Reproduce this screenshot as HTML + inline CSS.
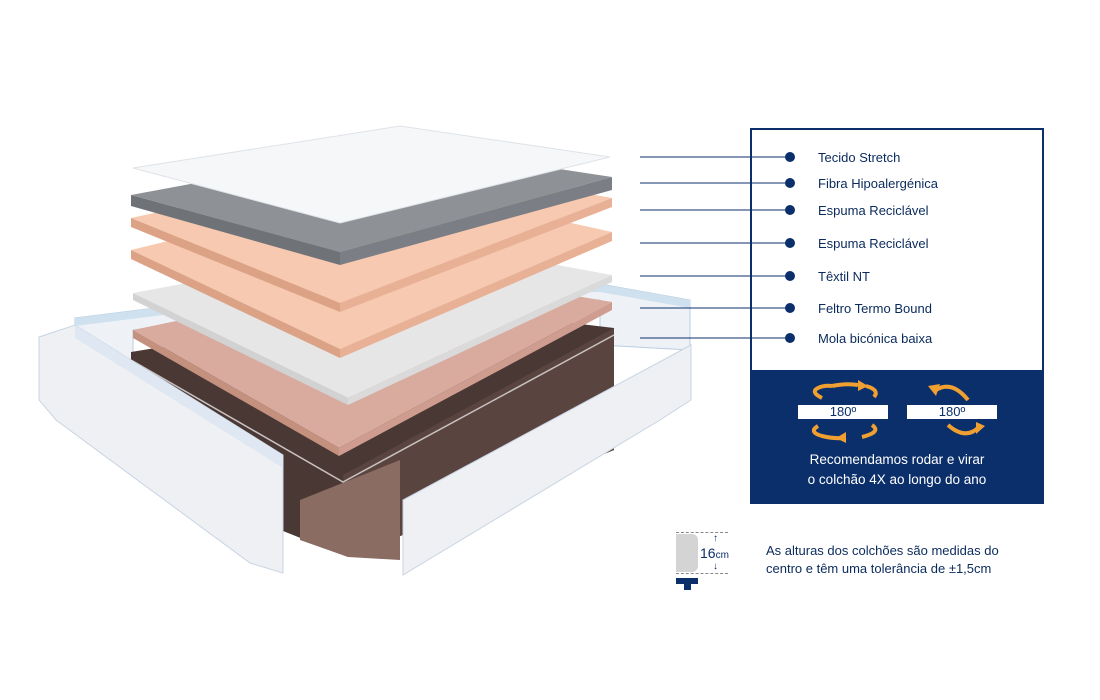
<!DOCTYPE html>
<html><head><meta charset="utf-8"><style>
body{margin:0;width:1100px;height:700px;background:#fff;font-family:"Liberation Sans",sans-serif;position:relative;overflow:hidden}
.lbl{position:absolute;left:818px;font-size:13px;color:#0a2a5c}
.box{position:absolute;left:750px;top:128px;width:294px;height:376px;border:2px solid #0b2f6b;box-sizing:border-box}
.dark{position:absolute;left:750px;top:370px;width:294px;height:134px;background:#0b2f6b}
.w{position:absolute;background:#fff;color:#0b2f6b;font-size:13px;text-align:center;height:14px;line-height:14px;width:90px;top:405px}
</style></head><body>
<svg width="1100" height="700" style="position:absolute;left:0;top:0">
<!-- back frame -->
<polygon points="75,318 300,290 600,284 690,300 690,350 600,345 600,300 300,306 133,330 133,380 75,390" fill="#eef2f7" stroke="#b8cde0"/>
<polygon points="75,318 300,290 600,284 690,300 690,308 600,292 300,298 75,326" fill="#cfe0ef"/>
<!-- springs -->
<polygon points="131,352 420,305 614,328 614,450 348,557 131,470" fill="#4a3835"/>
<polygon points="343,475 614,328 614,450 348,557" fill="#5a4440"/>
<polygon points="300,500 400,460 400,560 348,557 300,540" fill="#8a6c63"/>
<polyline points="131,360 343,482 614,335" fill="none" stroke="#c9c2c0" stroke-width="1.5"/>
<!-- left side panel -->
<polygon points="39,337 75,325 283,455 283,573 250,563 56,420 39,400" fill="#eef0f3" stroke="#c8d4e2"/>
<polygon points="75,325 283,455 283,468 75,338" fill="#dfe8f2"/>
<!-- right side panel -->
<polygon points="403,500 691,345 691,400 660,420 403,575" fill="#eef0f3" stroke="#c8d4e2"/>
<!-- felt -->
<polygon points="133,330 420,270 612,302 339,448" fill="#d9aa9e"/>
<polygon points="133,330 339,448 339,456 133,338" fill="#c4917f"/>
<polygon points="339,448 612,302 612,310 339,456" fill="#cf9d8f"/>
<!-- textile -->
<polygon points="133,293 420,240 612,275 348,398" fill="#e6e6e6"/>
<polygon points="133,293 348,398 348,405 133,300" fill="#d2d2d2"/>
<polygon points="348,398 612,275 612,282 348,405" fill="#dadada"/>
<!-- peach 2 -->
<polygon points="131,250 400,185 612,232 340,349" fill="#f6c9b0"/>
<polygon points="131,250 340,349 340,358 131,259" fill="#dca286"/>
<polygon points="340,349 612,232 612,241 340,358" fill="#e8b095"/>
<!-- peach 1 -->
<polygon points="131,218 400,160 612,198 340,303" fill="#f6c9b0"/>
<polygon points="131,218 340,303 340,312 131,227" fill="#dca286"/>
<polygon points="340,303 612,198 612,207 340,312" fill="#e8b095"/>
<!-- gray -->
<polygon points="131,195 400,145 612,177 340,252" fill="#8e9196"/>
<polygon points="131,195 340,252 340,265 131,206" fill="#6f7277"/>
<polygon points="340,252 612,177 612,190 340,265" fill="#7b7e84"/>
<!-- tecido -->
<polygon points="133,168 400,126 610,157 340,223" fill="#f6f7f9" stroke="#dfe3e8"/>
<!-- connector lines -->
<g stroke="#0b2f6b" stroke-width="1">
<line x1="640" y1="157" x2="790" y2="157"/><line x1="640" y1="183" x2="790" y2="183"/>
<line x1="640" y1="210" x2="790" y2="210"/><line x1="640" y1="243" x2="790" y2="243"/>
<line x1="640" y1="276" x2="790" y2="276"/><line x1="640" y1="308" x2="790" y2="308"/>
<line x1="640" y1="338" x2="790" y2="338"/></g>
<g fill="#0b2f6b"><circle cx="790" cy="157" r="5"/><circle cx="790" cy="183" r="5"/><circle cx="790" cy="210" r="5"/><circle cx="790" cy="243" r="5"/><circle cx="790" cy="276" r="5"/><circle cx="790" cy="308" r="5"/><circle cx="790" cy="338" r="5"/></g>
</svg>
<div class="box"></div><div class="dark"></div>
<div class="lbl" style="top:150px">Tecido Stretch</div>
<div class="lbl" style="top:176px">Fibra Hipoalergénica</div>
<div class="lbl" style="top:203px">Espuma Reciclável</div>
<div class="lbl" style="top:236px">Espuma Reciclável</div>
<div class="lbl" style="top:269px">Têxtil NT</div>
<div class="lbl" style="top:301px">Feltro Termo Bound</div>
<div class="lbl" style="top:331px">Mola bicónica baixa</div>
<svg width="1100" height="700" style="position:absolute;left:0;top:0">
<g fill="none" stroke="#f0a030" stroke-width="4">
<path d="M832 386 Q846 383 858 385"/><path d="M822 398 Q810 392 818 388 Q824 385 832 386"/><path d="M866 386 Q880 390 874 397"/>
<path d="M818 426 Q808 432 822 436 Q834 439 846 438"/><path d="M862 437 Q882 432 872 425"/>
<path d="M936 390 Q952 380 968 400"/><path d="M948 425 Q965 440 978 428"/>
</g>
<g fill="#f0a030">
<polygon points="858,380 868,386 858,391"/><polygon points="846,432 836,438 846,443"/>
<polygon points="928,386 936,396 940,384"/><polygon points="976,422 985,426 976,434"/>
</g>
</svg>
<div class="w" style="left:798px">180º</div>
<div class="w" style="left:907px">180º</div>
<div style="position:absolute;left:750px;top:450px;width:294px;text-align:center;color:#fff;font-size:13.5px;line-height:20px">Recomendamos rodar e virar<br>o colchão 4X ao longo do ano</div>
<div style="position:absolute;left:676px;top:534px;width:22px;height:38px;background:#d4d4d4;border-radius:0 6px 6px 0"></div>
<div style="position:absolute;left:676px;top:532px;width:52px;border-top:1px dashed #888"></div>
<div style="position:absolute;left:676px;top:573px;width:52px;border-top:1px dashed #888"></div>
<div style="position:absolute;left:713px;top:533px;font-size:10px;color:#0b2f6b">↑</div>
<div style="position:absolute;left:713px;top:561px;font-size:10px;color:#0b2f6b">↓</div>
<div style="position:absolute;left:700px;top:545px;font-size:14px;color:#0b2f6b">16<span style="font-size:10px">cm</span></div>
<div style="position:absolute;left:676px;top:578px;width:22px;height:6px;background:#0b2f6b"></div>
<div style="position:absolute;left:684px;top:582px;width:7px;height:8px;background:#0b2f6b"></div>
<div style="position:absolute;left:766px;top:542px;font-size:13px;line-height:18px;color:#0a2a5c">As alturas dos colchões são medidas do<br>centro e têm uma tolerância de ±1,5cm</div>
</body></html>
